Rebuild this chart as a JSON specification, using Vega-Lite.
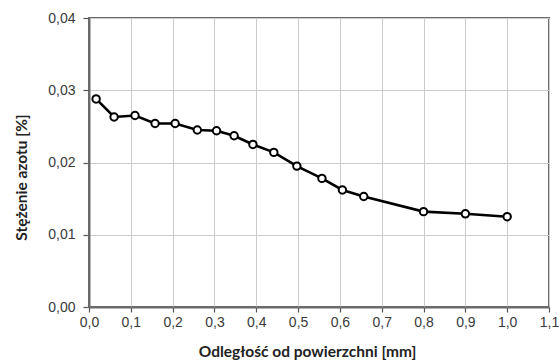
{
  "$schema": "https://vega.github.io/schema/vega-lite/v6.json",
  "autosize": {"type": "none"},
  "padding": {"left": 89, "top": 18, "right": 11, "bottom": 56},
  "width": 460,
  "height": 289,
  "background": "white",
  "config": {
    "view": {"stroke": "#6b6b6b", "strokeWidth": 2},
    "axis": {
      "labelFont": "Liberation Sans",
      "labelFontSize": 14,
      "labelColor": "#3a3a3a",
      "titleFont": "Lato",
      "titleFontWeight": "bold",
      "titleFontSize": 15.5,
      "titleColor": "#222222",
      "gridColor": "#cccccc",
      "gridWidth": 1,
      "domainColor": "#6b6b6b",
      "domainWidth": 2,
      "tickColor": "#555555",
      "tickWidth": 1.2
    }
  },
  "data": {
    "values": [
      {"x": 0.017, "y": 0.0288},
      {"x": 0.06, "y": 0.0263},
      {"x": 0.11, "y": 0.0265},
      {"x": 0.158, "y": 0.0254},
      {"x": 0.206, "y": 0.0254},
      {"x": 0.259, "y": 0.0245},
      {"x": 0.305, "y": 0.0244},
      {"x": 0.347, "y": 0.0237},
      {"x": 0.392, "y": 0.0225},
      {"x": 0.442, "y": 0.0214},
      {"x": 0.497, "y": 0.0195},
      {"x": 0.557, "y": 0.0178},
      {"x": 0.606, "y": 0.0162},
      {"x": 0.657, "y": 0.0153},
      {"x": 0.8, "y": 0.0132},
      {"x": 0.9, "y": 0.0129},
      {"x": 1.0, "y": 0.0125}
    ]
  },
  "encoding": {
    "x": {
      "field": "x",
      "type": "quantitative",
      "scale": {"domain": [0, 1.1], "nice": false, "zero": false},
      "axis": {
        "title": "Odległość od powierzchni [mm]",
        "values": [0, 0.1, 0.2, 0.3, 0.4, 0.5, 0.6, 0.7, 0.8, 0.9, 1.0, 1.1],
        "labelExpr": "replace(format(datum.value, '.1f'), '.', ',')",
        "tickSize": 5,
        "labelPadding": 3,
        "titlePadding": 15,
        "titleX": 218,
        "titleAlign": "center",
        "labelFlush": false
      }
    },
    "y": {
      "field": "y",
      "type": "quantitative",
      "scale": {"domain": [0, 0.04], "nice": false},
      "axis": {
        "title": "Stężenie azotu [%]",
        "values": [0, 0.01, 0.02, 0.03, 0.04],
        "labelExpr": "replace(format(datum.value, '.2f'), '.', ',')",
        "tickSize": 6,
        "labelPadding": 8,
        "titleX": -68,
        "titleY": 159,
        "titleAngle": -90,
        "titleAlign": "center",
        "titleBaseline": "middle",
        "labelFlush": false
      }
    }
  },
  "layer": [
    {"mark": {"type": "line", "color": "black", "strokeWidth": 2.6}},
    {"mark": {"type": "point", "shape": "circle", "filled": true, "fill": "white", "stroke": "black", "strokeWidth": 2, "size": 55, "opacity": 1}}
  ]
}
